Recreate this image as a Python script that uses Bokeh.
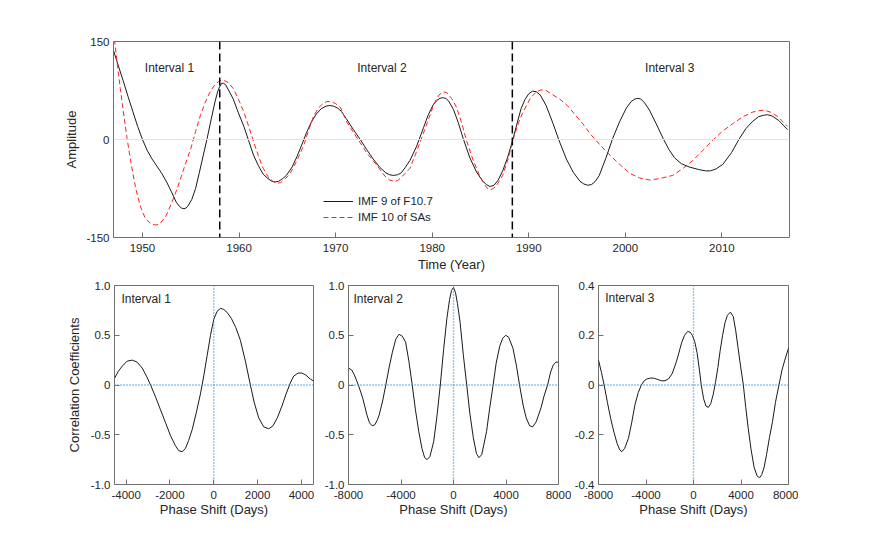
from bokeh.plotting import figure
from bokeh.models import Range1d, FixedTicker, Span, Label
from bokeh.layouts import column, row
from bokeh.embed import file_html
from bokeh.resources import INLINE

FONT = "Liberation Sans"

# ---------------- data ----------------
years_f107 = [1947.0, 1947.5, 1948.0, 1948.5, 1949.0, 1949.5, 1950.0, 1950.5, 1951.0, 1951.5,
              1952.0, 1952.5, 1953.0, 1953.5, 1953.8, 1954.05, 1954.3, 1954.5, 1954.7, 1955.1,
              1955.5, 1955.9, 1956.3, 1956.7, 1957.1, 1957.5, 1957.8, 1958.0, 1958.2, 1958.4,
              1958.6, 1958.9, 1959.4, 1959.9, 1960.5, 1961.0, 1961.5, 1962.0, 1962.5, 1963.0,
              1963.4, 1963.75, 1964.1, 1964.5, 1964.9, 1965.5, 1966.0, 1966.5, 1967.0, 1967.5,
              1968.0, 1968.5, 1969.0, 1969.4, 1969.8, 1970.2, 1970.6, 1971.1, 1971.8, 1972.5,
              1973.2, 1973.9, 1974.6, 1975.2, 1975.6, 1976.0, 1976.4, 1976.8, 1977.2, 1977.7,
              1978.4, 1979.1, 1979.6, 1980.1, 1980.5, 1980.8, 1981.1, 1981.4, 1981.7, 1982.2,
              1982.7, 1983.2, 1983.9, 1984.6, 1985.2, 1985.6, 1986.0, 1986.4, 1986.8, 1987.3,
              1987.8, 1988.3, 1988.8, 1989.2, 1989.6, 1990.0, 1990.4, 1990.8, 1991.2, 1991.8,
              1992.5, 1993.2, 1993.9, 1994.6, 1995.3, 1995.7, 1996.1, 1996.5, 1996.9, 1997.3,
              1998.0, 1998.7, 1999.4, 2000.1, 2000.6, 2001.0, 2001.3, 2001.6, 2002.0, 2002.5,
              2003.2, 2003.9, 2004.5, 2005.1, 2005.8, 2006.6, 2007.6, 2008.3, 2008.8, 2009.4,
              2010.1, 2011.0, 2011.8, 2012.5, 2013.2, 2013.8, 2014.3, 2014.7, 2015.2, 2015.9,
              2016.8]
imf9_f107 = [136, 113, 90, 66, 43, 20, 0, -17, -30, -41,
             -52, -65, -80, -96, -102, -105, -106, -105, -102, -92,
             -75, -50, -24, 2, 30, 57, 74, 81, 86, 86,
             84, 76, 62, 42, 20, -2, -24, -40, -53, -60,
             -64, -65, -64, -60, -55, -42, -26, -8, 11, 27,
             39, 47, 51, 52, 51, 48, 43, 32, 16, 1,
             -15, -30, -43, -51, -54, -55, -54, -51, -43, -32,
             -10, 18, 38, 53, 60, 63, 64, 63, 59, 46,
             26, 2, -28, -50, -63, -69, -72, -70, -63, -48,
             -28, -3, 25, 47, 61, 70, 74, 73, 68, 52,
             25, -4, -30, -50, -64, -68, -70, -69, -64, -55,
             -28, 2, 27, 48, 58, 62, 63, 62, 56, 45,
             24, 2, -15, -28, -37, -42, -46, -48, -48, -45,
             -38, -20, 1, 17, 28, 35, 37, 38, 36, 29,
             15]

years_sas = [1947.0, 1947.4, 1947.7, 1948.0, 1948.4, 1948.8, 1949.3, 1949.8, 1950.3, 1950.8,
             1951.1, 1951.4, 1951.8, 1952.4, 1953.0, 1953.6, 1954.3, 1955.0, 1955.5, 1956.0,
             1956.5, 1957.0, 1957.5, 1957.9, 1958.2, 1958.5, 1958.9, 1959.4, 1959.9, 1960.5,
             1961.0, 1961.5, 1962.0, 1962.5, 1963.0, 1963.5, 1963.9, 1964.3, 1964.8, 1965.3,
             1966.0, 1966.7, 1967.2, 1967.7, 1968.2, 1968.7, 1969.1, 1969.5, 1970.0, 1970.5,
             1971.15, 1971.8, 1972.5, 1973.3, 1974.25, 1975.1, 1975.6, 1976.0, 1976.4, 1976.8,
             1977.7, 1978.5, 1979.4, 1980.2, 1980.7, 1981.1, 1981.5, 1982.0, 1982.5, 1983.0,
             1983.5, 1984.2, 1984.9, 1985.5, 1985.8, 1986.1, 1986.6, 1987.3, 1987.9, 1988.4,
             1989.0, 1989.4, 1990.2, 1990.8, 1991.3, 1991.8, 1992.2, 1993.2, 1994.0, 1994.8,
             1995.6, 1996.4, 1997.3, 1998.2, 1999.4, 2000.5, 2001.5, 2002.5, 2003.5, 2004.9,
             2006.0, 2007.0, 2008.0, 2009.0, 2010.0, 2011.1, 2012.2, 2013.2, 2013.8, 2014.4,
             2015.0, 2015.8, 2016.8]
imf10_sas = [165, 115, 78, 45, 2, -35, -75, -103, -121, -128,
             -130, -131, -129, -118, -98, -75, -44, -14, 12, 37,
             57, 73, 84, 89, 91, 90, 87, 78, 63, 42,
             20, -3, -25, -44, -57, -64, -67, -66, -60, -52,
             -32, -9, 14, 35, 48, 55, 58, 58, 55, 49,
             27, 12, -4, -22, -39, -56, -62, -64, -63, -58,
             -44, -14, 22, 55, 68, 73, 72, 63, 50, 28,
             1, -30, -55, -71, -76, -77, -72, -55, -28, 1,
             28, 42, 64, 73, 76, 75, 71, 62, 52, 38,
             24, 8, -7, -21, -38, -52, -59, -62, -60, -55,
             -44, -32, -17, -2, 12, 24, 35, 42, 44, 45,
             42, 35, 20]

interval_bounds = [1958.0, 1988.3]
interval_names = ["Interval 1", "Interval 2", "Interval 3"]
interval_label_x = [1952.8, 1974.8, 2004.6]

lag1 = [-4524, -4350, -4175, -3950, -3719, -3500, -3264, -3050, -2884, -2657,
        -2429, -2200, -1973, -1750, -1600, -1442, -1300, -1150, -987, -800,
        -600, -450, -300, -150, 0, 150, 304, 450, 607, 800,
        1000, 1214, 1442, 1670, 1850, 2050, 2277, 2505, 2700, 2900,
        3112, 3300, 3491, 3650, 3850, 4023, 4200, 4400, 4554]
corr1 = [0.07, 0.14, 0.19, 0.24, 0.25, 0.23, 0.17, 0.08, 0.00, -0.12,
         -0.25, -0.38, -0.51, -0.61, -0.66, -0.67, -0.64, -0.56, -0.45, -0.28,
         -0.08, 0.10, 0.30, 0.50, 0.66, 0.74, 0.77, 0.76, 0.73, 0.67,
         0.58, 0.45, 0.24, 0.00, -0.18, -0.33, -0.42, -0.44, -0.41, -0.33,
         -0.21, -0.09, 0.02, 0.09, 0.12, 0.12, 0.10, 0.06, 0.04]

lag2 = [-8000, -7750, -7548, -7250, -6919, -6600, -6400, -6200, -6000, -5800,
        -5661, -5400, -5158, -4900, -4655, -4400, -4151, -3900, -3648, -3400,
        -3145, -2900, -2642, -2400, -2200, -2013, -1800, -1510, -1250, -1006,
        -750, -503, -300, -150, 0, 150, 300, 503, 750, 1006,
        1250, 1510, 1750, 1937, 2150, 2516, 2750, 3019, 3250, 3522,
        3750, 3975, 4200, 4529, 4800, 5032, 5300, 5535, 5800, 6038,
        6300, 6667, 6900, 7170, 7400, 7600, 7800, 8000]
corr2 = [0.17, 0.15, 0.10, 0.00, -0.13, -0.30, -0.38, -0.41, -0.40, -0.35,
         -0.30, -0.16, 0.00, 0.18, 0.33, 0.46, 0.51, 0.49, 0.43, 0.24,
         0.00, -0.25, -0.47, -0.64, -0.73, -0.75, -0.72, -0.57, -0.30, 0.00,
         0.36, 0.67, 0.86, 0.95, 0.98, 0.93, 0.82, 0.63, 0.30, 0.00,
         -0.29, -0.53, -0.69, -0.73, -0.70, -0.47, -0.24, 0.00, 0.22, 0.39,
         0.47, 0.50, 0.48, 0.37, 0.19, 0.00, -0.20, -0.33, -0.41, -0.42,
         -0.37, -0.23, -0.11, 0.00, 0.13, 0.20, 0.23, 0.23]

lag3 = [-8000, -7750, -7524, -7250, -6978, -6700, -6433, -6200, -6024, -5800,
        -5479, -5200, -4934, -4650, -4389, -4150, -3900, -3600, -3300, -3000,
        -2700, -2400, -2100, -1799, -1500, -1254, -1000, -750, -500, -300,
        -100, 100, 300, 500, 654, 850, 1050, 1254, 1450, 1650,
        1850, 2050, 2250, 2450, 2650, 2850, 3108, 3350, 3550, 3750,
        3950, 4198, 4400, 4607, 4850, 5100, 5350, 5561, 5750, 5950,
        6150, 6400, 6651, 6900, 7196, 7450, 7687, 8000]
corr3 = [0.10, 0.05, 0.00, -0.07, -0.134, -0.19, -0.235, -0.262, -0.268, -0.255,
         -0.215, -0.15, -0.08, -0.03, 0.00, 0.017, 0.025, 0.028, 0.027, 0.022,
         0.017, 0.017, 0.025, 0.045, 0.085, 0.125, 0.17, 0.20, 0.215, 0.213,
         0.20, 0.175, 0.13, 0.06, 0.00, -0.055, -0.085, -0.09, -0.075, -0.04,
         0.01, 0.07, 0.14, 0.20, 0.25, 0.28, 0.293, 0.275, 0.22, 0.15,
         0.08, 0.00, -0.09, -0.174, -0.26, -0.33, -0.365, -0.373, -0.36, -0.33,
         -0.28, -0.21, -0.148, -0.07, 0.00, 0.06, 0.10, 0.148]

year_ticks = [1950, 1960, 1970, 1980, 1990, 2000, 2010]
amp_ticks = [-150, 0, 150]
amp_labels = ["-150", "0", "150"]
lag_ticks1 = [-4000, -2000, 0, 2000, 4000]
lag_labels1 = ["-4000", "-2000", "0", "2000", "4000"]
lag_ticks23 = [-8000, -4000, 0, 4000, 8000]
lag_labels23 = ["-8000", "-4000", "0", "4000", "8000"]
corr_ticks12 = [-1.0, -0.5, 0, 0.5, 1.0]
corr_labels12 = ["-1.0", "-0.5", "0", "0.5", "1.0"]
corr_ticks3 = [-0.4, -0.2, 0, 0.2, 0.4]
corr_labels3 = ["-0.4", "-0.2", "0", "0.2", "0.4"]

TXT = "#262626"
BOX = "#707070"
DOT = "#2a8ee0"


def style(p, xticks, xlabels, yticks, ylabels):
    p.outline_line_color = BOX
    p.outline_line_width = 1
    p.grid.visible = False
    xa = p.below[0]
    ya = p.left[0]
    for ax in (xa, ya):
        ax.axis_line_color = None
        ax.major_tick_in = 5
        ax.major_tick_out = 0
        ax.major_tick_line_color = BOX
        ax.minor_tick_line_color = None
        ax.major_label_text_font = FONT
        ax.major_label_text_font_size = "11.5px"
        ax.major_label_text_color = TXT
        ax.axis_label_text_font = FONT
        ax.axis_label_text_font_size = "13px"
        ax.axis_label_text_font_style = "normal"
        ax.axis_label_text_color = TXT
    xa.ticker = FixedTicker(ticks=xticks)
    ya.ticker = FixedTicker(ticks=yticks)
    if xlabels:
        xa.major_label_overrides = dict(zip(xticks, xlabels))
    ya.major_label_overrides = dict(zip(yticks, ylabels))
    xa.major_label_standoff = 6
    ya.major_label_standoff = 4
    return xa, ya


# ---------------- top panel ----------------
top = figure(width=864, height=275, x_range=Range1d(1947, 2017), y_range=Range1d(-150, 150),
             output_backend="svg", toolbar_location=None,
             min_border_left=113, min_border_right=75, min_border_top=41, min_border_bottom=38)
txa, tya = style(top, year_ticks, None, amp_ticks, amp_labels)
txa.axis_label = "Time (Year)"
tya.axis_label = "Amplitude"
txa.axis_label_standoff = 2
tya.axis_label_standoff = 4

top.add_layout(Span(location=0, dimension="width", line_color="#e3e3e3", line_width=1))
for b in interval_bounds:
    top.add_layout(Span(location=b, dimension="height", line_color="black",
                        line_width=1.5, line_dash="8 4"))

top.line(years_f107, imf9_f107, line_color="#1a1a1a", line_width=1, legend_label="IMF 9 of F10.7")
top.line(years_sas, imf10_sas, line_color="#ff2020", line_width=1, line_dash="5 3",
         legend_label="IMF 10 of SAs")

for name, lx in zip(interval_names, interval_label_x):
    top.add_layout(Label(x=lx, y=109, text=name, text_align="center", text_baseline="middle",
                         text_font=FONT, text_font_size="12px", text_color=TXT))

lg = top.legend[0]
lg.location = (210, 12)
lg.border_line_color = None
lg.background_fill_alpha = 0
lg.padding = 0
lg.margin = 0
lg.spacing = 0
lg.glyph_width = 30
lg.glyph_height = 16
lg.label_height = 16
lg.label_standoff = 5
lg.label_text_font = FONT
lg.label_text_font_size = "11.5px"
lg.label_text_color = TXT


# ---------------- bottom panels ----------------
def corr_panel(width, xr, yr, lags, corr, xticks, xlabels, yticks, ylabels, bl, br):
    p = figure(width=width, height=244, x_range=Range1d(*xr), y_range=Range1d(*yr),
               output_backend="svg", toolbar_location=None,
               min_border_left=bl, min_border_right=br, min_border_top=10, min_border_bottom=34)
    xa, ya = style(p, xticks, xlabels, yticks, ylabels)
    xa.axis_label = "Phase Shift (Days)"
    xa.axis_label_standoff = 0
    p.add_layout(Span(location=0, dimension="width", line_color=DOT,
                      line_width=1.4, line_dash="1 2"))
    p.add_layout(Span(location=0, dimension="height", line_color=DOT,
                      line_width=1.4, line_dash="1 2"))
    p.line(lags, corr, line_color="#1a1a1a", line_width=1)
    return p, ya


p1, ya1 = corr_panel(321, (-4530, 4550), (-1, 1), lag1, corr1, lag_ticks1, lag_labels1,
                     corr_ticks12, corr_labels12, 114, 8)
ya1.axis_label = "Correlation Coefficients"
ya1.axis_label_standoff = 6
p2, _ = corr_panel(250, (-8000, 8000), (-1, 1), lag2, corr2, lag_ticks23, lag_labels23,
                   corr_ticks12, corr_labels12, 25, 13)
p3, _ = corr_panel(227, (-8000, 8000), (-0.4, 0.4), lag3, corr3, lag_ticks23, lag_labels23,
                   corr_ticks3, corr_labels3, 25, 10)

label_pos = [(-4210, 0.86), (-7620, 0.867), (-7442, 0.349)]
for p, xy, name in zip((p1, p2, p3), label_pos, interval_names):
    p.add_layout(Label(x=xy[0], y=xy[1], text=name, text_align="left", text_baseline="middle",
                       text_font=FONT, text_font_size="12px", text_color=TXT))

layout = column(top, row(p1, p2, p3, spacing=0), spacing=0)
open("out.html", "w").write(file_html(layout, INLINE))
